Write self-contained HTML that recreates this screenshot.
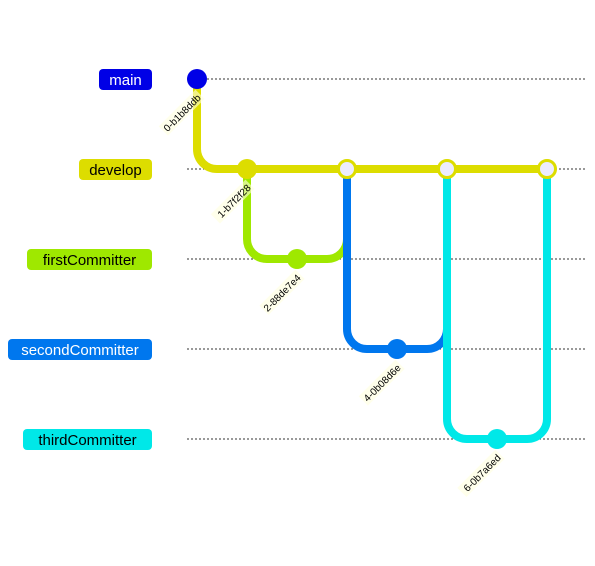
<!DOCTYPE html>
<html><head><meta charset="utf-8"><style>
html,body{margin:0;padding:0;background:#fff;}
svg{display:block;font-family:"Trebuchet MS","Liberation Sans",sans-serif;}
</style></head><body>
<svg width="595" height="566" viewBox="0 0 595 566" xmlns="http://www.w3.org/2000/svg">
<g stroke="#333" stroke-width="1" stroke-dasharray="2,2">
<line x1="187" y1="79" x2="585" y2="79"/>
<line x1="187" y1="169" x2="585" y2="169"/>
<line x1="187" y1="259" x2="585" y2="259"/>
<line x1="187" y1="349" x2="585" y2="349"/>
<line x1="187" y1="439" x2="585" y2="439"/>
</g>
<g fill="none" stroke-width="8">
<path d="M197 79 V149 A20 20 0 0 0 217 169 H547" stroke="#dddd00"/>
<path d="M247 169 V239 A20 20 0 0 0 267 259 H327 A20 20 0 0 0 347 239 V169" stroke="#9fe800"/>
<path d="M347 169 V329 A20 20 0 0 0 367 349 H427 A20 20 0 0 0 447 329 V169" stroke="#0077ee"/>
<path d="M447 169 V419 A20 20 0 0 0 467 439 H527 A20 20 0 0 0 547 419 V169" stroke="#00e8e8"/>
</g>
<circle cx="197" cy="79" r="10" fill="#0000e6"/>
<circle cx="247" cy="169" r="10" fill="#dddd00"/>
<circle cx="297" cy="259" r="10" fill="#9fe800"/>
<circle cx="397" cy="349" r="10" fill="#0077ee"/>
<circle cx="497" cy="439" r="10" fill="#00e8e8"/>
<g fill="#ececfd" stroke="#dddd00" stroke-width="3">
<circle cx="347" cy="169" r="8.5"/>
<circle cx="447" cy="169" r="8.5"/>
<circle cx="547" cy="169" r="8.5"/>
</g>
<g font-size="10" fill="#000" text-anchor="end">
<g transform="translate(199,96) rotate(-45)"><rect x="-50" y="-7" width="52" height="13" fill="#ffffde" opacity="0.6"/><text x="0" y="3.5">0-b1b8ddb</text></g>
<g transform="translate(249,186) rotate(-45)"><rect x="-47" y="-7" width="49" height="13" fill="#ffffde" opacity="0.6"/><text x="0" y="3.5">1-b7f2f28</text></g>
<g transform="translate(299,276) rotate(-45)"><rect x="-49" y="-7" width="51" height="13" fill="#ffffde" opacity="0.6"/><text x="0" y="3.5">2-88de7e4</text></g>
<g transform="translate(399,366) rotate(-45)"><rect x="-50" y="-7" width="52" height="13" fill="#ffffde" opacity="0.6"/><text x="0" y="3.5">4-0b08d6e</text></g>
<g transform="translate(499,456) rotate(-45)"><rect x="-52" y="-7" width="54" height="13" fill="#ffffde" opacity="0.6"/><text x="0" y="3.5">6-0b7a6ed</text></g>
</g>
<g font-size="15" text-anchor="middle">
<rect x="99" y="69" width="53" height="21" rx="4" fill="#0000e6"/><text x="125.5" y="85" fill="#fff">main</text>
<rect x="79" y="159" width="73" height="21" rx="4" fill="#dddd00"/><text x="115.5" y="175" fill="#000">develop</text>
<rect x="27" y="249" width="125" height="21" rx="4" fill="#9fe800"/><text x="89.5" y="265" fill="#000">firstCommitter</text>
<rect x="8" y="339" width="144" height="21" rx="4" fill="#0077ee"/><text x="80" y="355" fill="#fff">secondCommitter</text>
<rect x="23" y="429" width="129" height="21" rx="4" fill="#00e8e8"/><text x="87.5" y="445" fill="#000">thirdCommitter</text>
</g>
</svg>
</body></html>
